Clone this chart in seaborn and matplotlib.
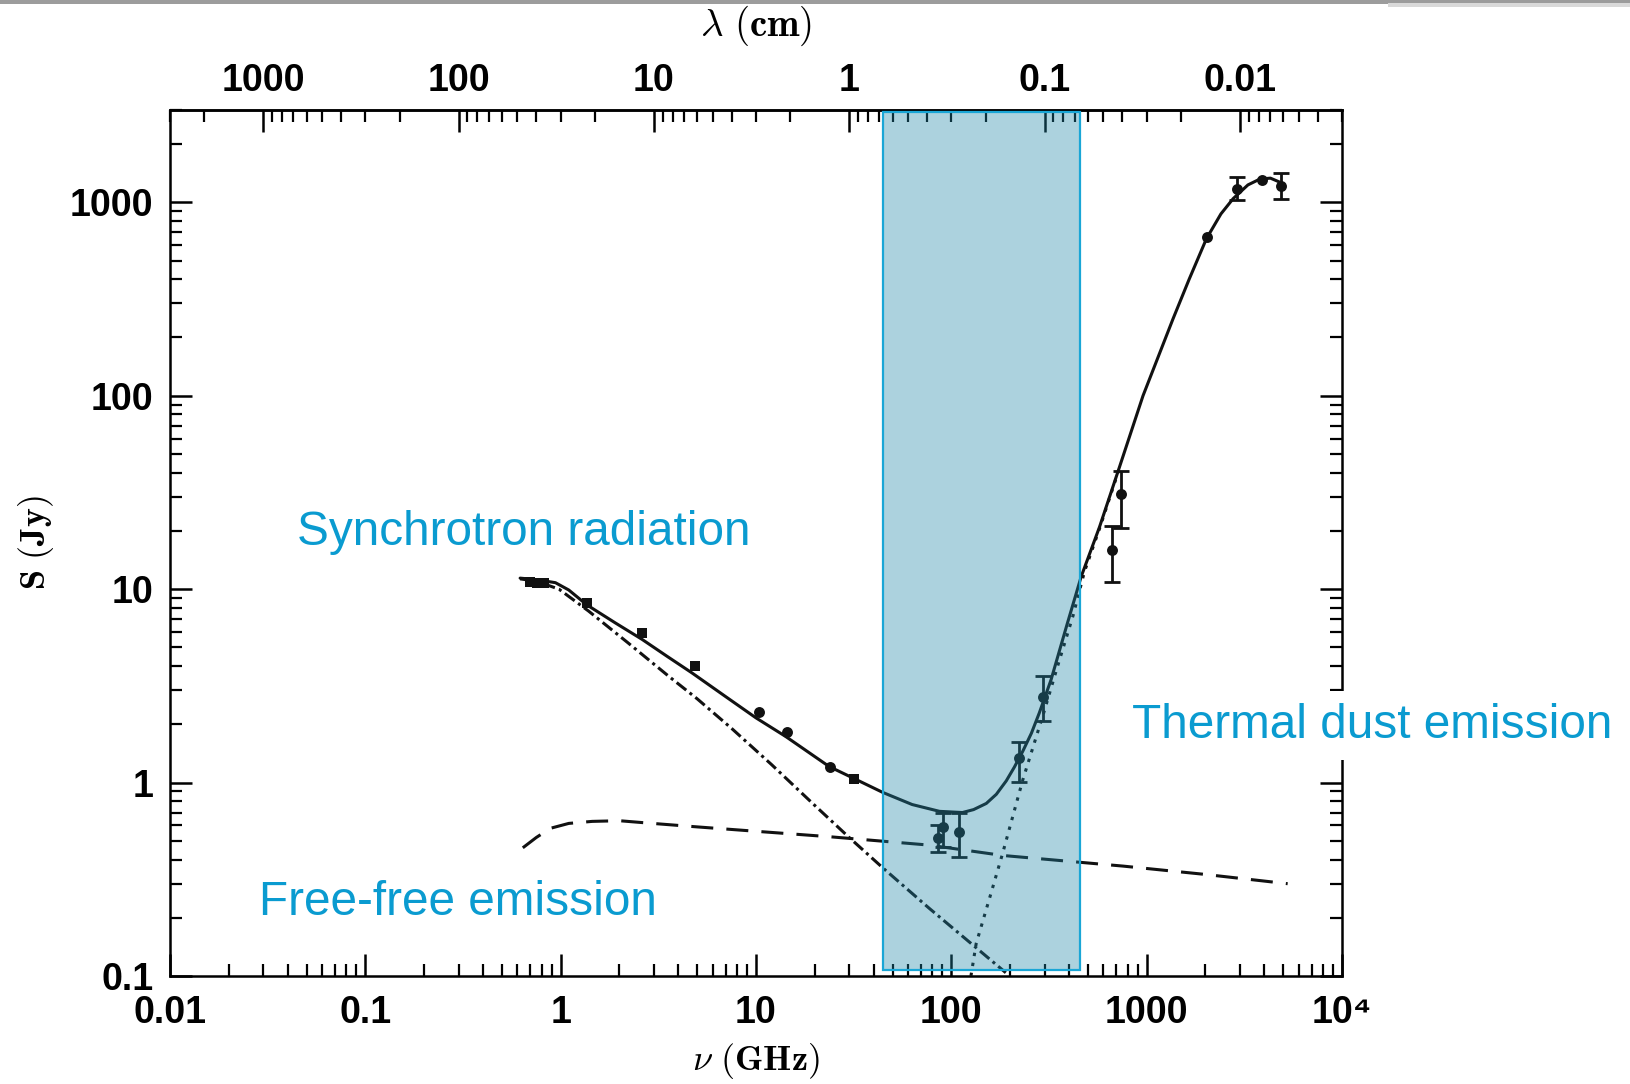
import numpy as np
import matplotlib
matplotlib.use("Agg")
import matplotlib.pyplot as plt
from matplotlib.patches import Rectangle
from matplotlib.ticker import LogLocator, NullFormatter
import seaborn as sns

# ---------------- data ----------------
# total model (solid)
total_nu = [0.62, 0.75, 0.94, 1.1, 1.36, 1.9, 2.61, 3.5, 4.7, 7.0, 10.0, 14.2, 23.7, 33,
            44.5, 63, 87, 114, 130, 151, 170, 191, 210, 232, 257, 282, 324, 390, 462, 574,
            727, 958, 1365, 1650, 2024, 2400, 2773, 3300, 3796, 4300, 4900]
total_S = [11.4, 11.2, 10.8, 9.9, 8.3, 6.7, 5.5, 4.5, 3.69, 2.78, 2.16, 1.73, 1.21, 1.03,
           0.89, 0.77, 0.71, 0.70, 0.725, 0.78, 0.87, 1.02, 1.2, 1.45, 1.8, 2.29, 3.4, 6.5,
           11.6, 21.0, 43, 100, 250, 400, 649, 871, 1045, 1230, 1318, 1333, 1260]
# synchrotron (dash-dot)
sync_nu = [0.62, 0.75, 0.98, 1.39, 2.2, 3.58, 5.0, 7.57, 12, 19.5, 30, 44.5, 77, 134, 190]
sync_S = [11.3, 11.0, 10.0, 7.7, 5.3, 3.54, 2.71, 1.89, 1.24, 0.78, 0.52, 0.363, 0.224, 0.14, 0.104]
# free-free (dashed)
ff_nu = [0.64, 0.75, 0.885, 1.1, 1.45, 2.0, 2.67, 5, 10, 23.7, 77, 183, 757, 2000, 5270]
ff_S = [0.46, 0.52, 0.58, 0.615, 0.63, 0.635, 0.62, 0.59, 0.56, 0.525, 0.475, 0.42, 0.37, 0.335, 0.30]
# thermal dust (dotted)
dust_nu = [126, 134, 160, 183, 232, 297, 350, 420, 480, 574, 727]
dust_S = [0.10, 0.147, 0.27, 0.43, 1.03, 2.29, 4.0, 7.3, 12.3, 20.6, 42.5]

# measurements
sq_nu = [0.70, 0.76, 0.82, 1.36, 2.6, 4.9, 31.6]
sq_S = [10.9, 10.8, 10.7, 8.5, 5.9, 4.0, 1.04]
circ_nu = [10.4, 14.4, 24, 90.3, 85.1, 110, 223, 294, 662, 740, 2027, 2890, 3882, 4900]
circ_S = [2.31, 1.83, 1.2, 0.59, 0.515, 0.557, 1.34, 2.78, 16.0, 31, 664, 1178, 1300, 1216]
err_nu = [90.3, 85.1, 110, 223, 294, 662, 740, 2890, 4900]
err_S = [0.59, 0.515, 0.557, 1.34, 2.78, 16.0, 31, 1178, 1216]
err_lo = [0.466, 0.44, 0.414, 1.01, 2.09, 10.9, 20.8, 1024, 1045]
err_hi = [0.693, 0.60, 0.693, 1.63, 3.57, 21.2, 41, 1353, 1409]

# highlighted band
band_nu = [44.8, 457]
band_S = [0.108, 2940]

# ticks
x_ticks = [0.01, 0.1, 1, 10, 100, 1000, 10000]
x_labels = ["0.01", "0.1", "1", "10", "100", "1000", "10\u2074"]
y_ticks = [0.1, 1, 10, 100, 1000]
y_labels = ["0.1", "1", "10", "100", "1000"]
lam_ticks = [1000, 100, 10, 1, 0.1, 0.01]
lam_labels = ["1000", "100", "10", "1", "0.1", "0.01"]

# ---------------- style ----------------
sns.set_theme(style="ticks")
plt.rcParams['font.family'] = ['Liberation Sans', 'DejaVu Sans']
plt.rcParams['mathtext.fontset'] = 'cm'
plt.rcParams['axes.edgecolor'] = 'black'
plt.rcParams['xtick.color'] = 'black'
plt.rcParams['ytick.color'] = 'black'

W, H = 1631, 1084
fig = plt.figure(figsize=(W / 100, H / 100), dpi=100)
ax = fig.add_axes([170 / W, 1 - 976 / H, (1342 - 170) / W, (976 - 110) / H])
ax.set_xscale('log')
ax.set_yscale('log')
ax.set_xlim(0.01, 1e4)
ax.set_ylim(0.1, 3000)

LW = 2.2
ink = '#111111'
sns.lineplot(x=total_nu, y=total_S, ax=ax, color=ink, lw=LW, sort=False, estimator=None, zorder=3)
sns.lineplot(x=sync_nu, y=sync_S, ax=ax, color=ink, lw=LW, sort=False, estimator=None,
             linestyle=(0, (4.0, 1.4, 1.0, 1.4)), zorder=3)
sns.lineplot(x=ff_nu, y=ff_S, ax=ax, color=ink, lw=LW, sort=False, estimator=None,
             linestyle=(0, (7.2, 4.3)), zorder=3)
sns.lineplot(x=dust_nu, y=dust_S, ax=ax, color=ink, lw=LW, sort=False, estimator=None,
             linestyle=(0, (1.1, 2.2)), zorder=3)

yerr = [np.array(err_S) - np.array(err_lo), np.array(err_hi) - np.array(err_S)]
ax.errorbar(err_nu, err_S, yerr=yerr, fmt='none', ecolor=ink, elinewidth=2.0,
            capsize=5.5, capthick=2.0, zorder=4)
sns.scatterplot(x=sq_nu, y=sq_S, ax=ax, marker='s', s=62, color=ink, linewidth=0, zorder=4)
sns.scatterplot(x=circ_nu, y=circ_S, ax=ax, marker='o', s=62, color=ink, linewidth=0, zorder=4)

# shaded band (translucent overlay) + bright edge
ax.add_patch(Rectangle((band_nu[0], band_S[0]), band_nu[1] - band_nu[0], band_S[1] - band_S[0],
                       facecolor='#2087A8', alpha=0.37, edgecolor='none', zorder=5))
ax.add_patch(Rectangle((band_nu[0], band_S[0]), band_nu[1] - band_nu[0], band_S[1] - band_S[0],
                       fill=False, edgecolor='#1aa6d6', lw=1.6, zorder=6))

# ticks
for sp in ax.spines.values():
    sp.set_linewidth(1.8)
    sp.set_color('black')
    sp.set_visible(True)
ax.set_xticks(x_ticks, x_labels, fontweight='bold', fontsize=27)
ax.set_yticks(y_ticks, y_labels, fontweight='bold', fontsize=27)
ax.xaxis.set_minor_locator(LogLocator(base=10, subs=np.arange(2, 10), numticks=50))
ax.yaxis.set_minor_locator(LogLocator(base=10, subs=np.arange(2, 10), numticks=50))
ax.xaxis.set_minor_formatter(NullFormatter())
ax.yaxis.set_minor_formatter(NullFormatter())
ax.tick_params(axis='both', which='both', direction='in', colors='black')
ax.tick_params(axis='x', which='both', top=False, bottom=True)
ax.tick_params(axis='y', which='both', left=True, right=True)
ax.tick_params(axis='both', which='major', length=16, width=1.8)
ax.tick_params(axis='both', which='minor', length=8.5, width=1.6)
ax.tick_params(axis='x', which='major', pad=14)
ax.tick_params(axis='y', which='major', pad=12)

sec = ax.secondary_xaxis('top', functions=(lambda x: 30.0 / np.maximum(x, 1e-30),
                                            lambda x: 30.0 / np.maximum(x, 1e-30)))
sec.set_xticks(lam_ticks, lam_labels, fontweight='bold', fontsize=27)
sec.xaxis.set_minor_locator(LogLocator(base=10, subs=np.arange(2, 10), numticks=50))
sec.xaxis.set_minor_formatter(NullFormatter())
sec.tick_params(axis='x', which='both', direction='in', colors='black')
sec.tick_params(axis='x', which='major', length=16, width=1.8, pad=8)
sec.tick_params(axis='x', which='minor', length=8.5, width=1.6)
sec.spines['top'].set_linewidth(1.8)

# axis labels
ax.set_xlabel(r'$\nu\ \mathbf{(GHz)}$', fontsize=26, color='black')
ax.xaxis.set_label_coords(0.5, -(1061 - 976) / 866)
ax.xaxis.label.set_va('center')
ax.set_ylabel(r'$\mathbf{S\ (Jy)}$', fontsize=26, color='black')
ax.yaxis.set_label_coords(-(170 - 36) / 1172, 0.5)
ax.yaxis.label.set_va('center')
ax.text(0.5, 1 + (110 - 26) / 866, r'$\lambda\ \mathbf{(cm)}$', fontsize=28, color='black',
        ha='center', va='center', transform=ax.transAxes)

# annotations
blue = '#0a9bd0'
fig.text(297 / W, 1 - 545 / H, 'Synchrotron radiation', color=blue, fontsize=34.4,
         ha='left', va='baseline')
fig.text(1132 / W, 1 - 738 / H, 'Thermal dust emission', color=blue, fontsize=34.4,
         ha='left', va='baseline',
         bbox=dict(boxstyle='square,pad=0.25', facecolor='white', edgecolor='none'))
fig.text(259 / W, 1 - 915 / H, 'Free-free emission', color=blue, fontsize=34.4,
         ha='left', va='baseline')

# grey strip at the very top of the slide
fig.add_artist(Rectangle((0, 1 - 3.5 / H), 1, 3.5 / H, transform=fig.transFigure,
                         facecolor='#9c9c9c', edgecolor='none'))
fig.add_artist(Rectangle((1388 / W, 1 - 6.5 / H), 1 - 1388 / W, 3 / H, transform=fig.transFigure,
                         facecolor='#d9d9d9', edgecolor='none'))

fig.savefig('out.png', dpi=100, facecolor='white')
